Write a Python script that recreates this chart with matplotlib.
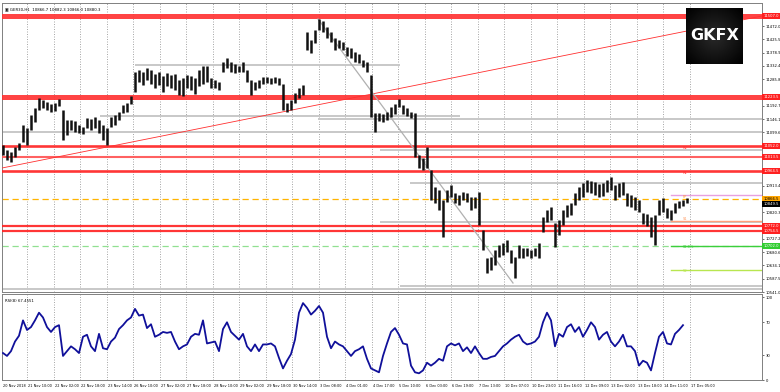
import numpy as np
import matplotlib
matplotlib.use("Agg")
import matplotlib.pyplot as plt
from matplotlib.transforms import blended_transform_factory as blend

# ---------------- data ----------------
symbol_info = "GER30,H1  10866.7 10882.3 10866.0 10880.3"
rsi_info = "RSI(8) 67.4551"

bar_high = [
    11055.5, 11038, 11031, 11048.5, 11062.5, 11125.5, 11115, 11160.5, 11185, 11220,
    11213, 11206, 11199, 11202.5, 11216.5, 11178, 11143, 11143, 11139.5, 11125.5,
    11118.5, 11150, 11146.5, 11153.5, 11143, 11125.5, 11115, 11153.5, 11160.5, 11171,
    11195.5, 11202.5, 11227, 11311, 11318, 11311, 11325, 11318, 11304, 11311,
    11297, 11307.5, 11300.5, 11304, 11283, 11290, 11300.5, 11297, 11290, 11318,
    11332, 11332, 11290, 11283, 11276, 11346, 11360, 11346, 11339, 11332,
    11346, 11318, 11283, 11276, 11283, 11293.5, 11293.5, 11290, 11293.5, 11290,
    11269, 11202.5, 11213, 11237.5, 11255, 11265.5, 11451, 11423, 11458, 11496.5,
    11489.5, 11468.5, 11451, 11430, 11423, 11416, 11398.5, 11395, 11381, 11374,
    11353, 11346, 11300.5, 11167.5, 11167.5, 11164, 11171, 11188.5, 11199, 11216.5,
    11195.5, 11185, 11171, 11167.5, 11020.5, 11010, 11048.5, 10968, 10908.5, 10898,
    10863, 10898, 10915.5, 10887.5, 10880.5, 10891, 10887.5, 10873.5, 10873.5, 10891,
    10758, 10660, 10663.5, 10688, 10705.5, 10712.5, 10723, 10688, 10663.5, 10705.5,
    10695, 10695, 10688, 10695, 10712.5, 10803.5, 10828, 10838.5, 10782.5, 10793,
    10828, 10845.5, 10852.5, 10887.5, 10908.5, 10922.5, 10933, 10929.5, 10926, 10919,
    10922.5, 10933, 10943.5, 10915.5, 10922.5, 10926, 10887.5, 10880.5, 10873.5, 10863,
    10817.5, 10814, 10803.5, 10810.5, 10863, 10870, 10835, 10828, 10852.5, 10859.5,
    10863, 10870]

bar_low = [
    11020.5, 11003, 10996, 11013.5, 11038, 11066, 11055.5, 11108, 11136, 11178,
    11185, 11178, 11171, 11174.5, 11192, 11073, 11090.5, 11108, 11101, 11097.5,
    11094, 11115, 11108, 11115, 11097.5, 11073, 11055.5, 11118.5, 11125.5, 11143,
    11167.5, 11171, 11199, 11241, 11276, 11265.5, 11283, 11269, 11255, 11265.5,
    11241, 11262, 11255, 11248, 11230.5, 11227, 11255, 11248, 11234, 11262,
    11269, 11276, 11255, 11255, 11248, 11311, 11325, 11311, 11307.5, 11311,
    11311, 11276, 11230.5, 11248, 11255, 11269, 11272.5, 11269, 11272.5, 11265.5,
    11178, 11171, 11178, 11202.5, 11220, 11230.5, 11388, 11377.5, 11412.5, 11458,
    11451, 11430, 11416, 11388, 11395, 11388, 11367, 11360, 11346, 11342.5,
    11328.5, 11311, 11153.5, 11101, 11139.5, 11136, 11143, 11153.5, 11164, 11188.5,
    11164, 11157, 11150, 11013.5, 10975, 10968, 10975, 10863, 10852.5, 10828,
    10733.5, 10856, 10873.5, 10852.5, 10845.5, 10863, 10856, 10828, 10835, 10775.5,
    10688, 10607.5, 10618, 10635.5, 10663.5, 10670.5, 10681, 10642.5, 10590, 10660,
    10660, 10667, 10660, 10667, 10660, 10751, 10786, 10793, 10698.5, 10740.5,
    10775.5, 10803.5, 10810.5, 10845.5, 10863, 10873.5, 10891, 10887.5, 10880.5, 10873.5,
    10877, 10891, 10898, 10863, 10873.5, 10880.5, 10842, 10838.5, 10828, 10821,
    10779, 10772, 10733.5, 10705.5, 10810.5, 10821, 10800, 10793, 10817.5, 10835,
    10842, 10852.5]

rsi = [
    32.6, 29.1, 34.9, 46.5, 53.5, 72.1, 60.5, 64.0, 72.1, 81.4,
    75.6, 64.0, 58.1, 64.0, 66.3, 29.1, 34.9, 40.7, 37.2, 32.6,
    52.3, 54.7, 40.7, 34.9, 55.8, 38.4, 37.2, 46.5, 51.2, 61.6,
    66.3, 72.1, 75.6, 86.0, 77.9, 79.1, 62.8, 67.4, 52.3, 54.7,
    58.1, 57.0, 58.1, 46.5, 37.2, 40.7, 43.0, 52.3, 55.8, 54.7,
    72.1, 44.2, 45.3, 46.5, 34.9, 61.6, 69.8, 58.1, 53.5, 48.8,
    55.8, 40.7, 34.9, 43.0, 34.9, 43.0, 43.0, 44.2, 40.7, 26.7,
    14.0, 23.3, 31.4, 48.8, 81.4, 93.0, 87.2, 79.1, 83.7, 89.5,
    81.4, 52.3, 38.4, 46.5, 43.0, 40.7, 34.9, 29.1, 34.9, 37.2,
    40.7, 25.6, 14.0, 11.6, 9.3, 29.1, 44.2, 58.1, 62.8, 54.7,
    44.2, 43.0, 17.4, 9.3, 8.1, 11.6, 20.9, 17.4, 20.9, 25.6,
    23.3, 40.7, 44.2, 41.9, 44.2, 34.9, 39.5, 32.6, 40.7, 32.6,
    25.6, 25.6, 27.9, 29.1, 34.9, 40.7, 44.2, 48.8, 52.3, 54.7,
    46.5, 43.0, 44.2, 46.5, 52.3, 69.8, 81.4, 72.1, 40.7, 55.8,
    52.3, 64.0, 67.4, 58.1, 64.0, 52.3, 60.5, 69.8, 64.0, 48.8,
    54.7, 58.1, 46.5, 40.7, 46.5, 54.7, 40.7, 40.7, 34.9, 17.4,
    23.3, 20.9, 11.6, 32.6, 52.3, 58.1, 44.2, 43.0, 55.8, 60.5,
    66.3]

time_labels = ["20 Nov 2018", "21 Nov 10:00", "22 Nov 02:00", "22 Nov 18:00", "23 Nov 14:00",
               "26 Nov 10:00", "27 Nov 02:00", "27 Nov 18:00", "28 Nov 10:00", "29 Nov 02:00",
               "29 Nov 18:00", "30 Nov 14:00", "3 Dec 08:00", "4 Dec 01:00", "4 Dec 17:00",
               "5 Dec 10:00", "6 Dec 03:00", "6 Dec 19:00", "7 Dec 13:00", "10 Dec 07:00",
               "10 Dec 23:00", "11 Dec 16:00", "12 Dec 09:00", "13 Dec 02:00", "13 Dec 18:00",
               "14 Dec 11:00", "17 Dec 05:00"]

# horizontal levels (price)
red_levels = [11507.0, 11223.5, 11052.0, 11013.5, 10964.5, 10772.0, 10754.5]
gray_levels = [11335.5, 11157.0, 11146.5, 11101.0, 11038.0, 10922.5, 10786.0, 10562.0, 10551.5]
gray_starts = [33, 24.25, 78.75, -0.25, 94.25, 101.75, 94.25, 99.25, -0.25]
gray_ends = [99.25, 114.25, 189.75, 189.75, 189.75, 189.75, 189.75, 189.75, 189.75]
orange_level = 10866.5
green_level = 10702.0
pivot_levels = [10880.5, 10789.5, 10702.0, 10618.0]
pivot_start = 167
last_price = 10849.5

# small level labels drawn next to the last bars
level_tags = ["R2", "R1", "PP", "S1", "61.8%", "S2"]
level_tag_prices = [11045.0, 10957.5, 10873.5, 10796.5, 10698.5, 10614.5]

red_trend_x = [-0.25, 189.75]
red_trend_y = [10975.0, 11507.0]
gray_trend_x = [78.75, 127.5]
gray_trend_y = [11496.5, 10572.5]

# ---------------- layout / style ----------------
W, H = 780, 392
fig = plt.figure(figsize=(W / 100, H / 100), dpi=100)
fig.patch.set_facecolor("white")


def frac(x0, y0, x1, y1):
    return [x0 / W, 1 - y1 / H, (x1 - x0) / W, (y1 - y0) / H]


ax = fig.add_axes(frac(2, 3, 762, 292))
axr = fig.add_axes(frac(2, 294, 762, 380))
XLIM = (-0.25, 189.75)
for a in (ax, axr):
    a.set_xlim(*XLIM)
    a.set_facecolor("white")
    for s in a.spines.values():
        s.set_color("#808080")
        s.set_linewidth(0.7)
    a.set_xticks([])
ax.set_ylim(10541.0, 11552.5)
axr.set_ylim(0, 104)

# vertical dotted grid (one line per time label after the first)
grid_pos = 6 + 6.625 * np.arange(len(time_labels) - 1)
for a in (ax, axr):
    for g in grid_pos:
        a.axvline(g, color="#9a9a9a", lw=0.6, ls=(0, (1.2, 1.8)), zorder=0)

# right-axis coloured boxes (levels shown on the price scale)
box_levels = red_levels + [orange_level, green_level, last_price]
box_colors = ["#ff2020"] * len(red_levels) + ["#ffa500", "#32cd32", "#000000"]
box_text = ["white"] * len(red_levels) + ["black", "white", "white"]

# price axis ticks on the right (those hidden under a box are left out)
price_ticks = 10541.0 + 46.55 * np.arange(22)
price_ticks = [t for t in price_ticks if min(abs(t - b) for b in box_levels) > 16]
ax.yaxis.tick_right()
ax.set_yticks(price_ticks)
ax.set_yticklabels([f"{v:.1f}" for v in price_ticks], fontsize=2.7)
ax.tick_params(axis="y", length=1.5, width=0.4, pad=1, colors="#000000")
axr.yaxis.tick_right()
axr.set_yticks([0, 30, 70, 100])
axr.set_yticklabels(["0", "30", "70", "100"], fontsize=2.7)
axr.tick_params(axis="y", length=1.5, width=0.4, pad=1)

# drawn levels
for lv, xs, xe in zip(gray_levels, gray_starts, gray_ends):
    ax.plot([xs, xe], [lv, lv], color="#c8c8c8", lw=1.4, zorder=1, solid_capstyle="butt")
ax.axhline(orange_level, color="#ffb400", lw=0.9, ls=(0, (5, 3)), zorder=2)
ax.axhline(green_level, color="#90e090", lw=0.9, ls=(0, (5, 3)), zorder=2)
red_lw = [3.6, 3.6, 1.9, 1.5, 1.9, 1.6, 1.6]
red_col = ["#ff3030", "#ff3030", "#ff2020", "#ff5050", "#ff2020", "#ff2020", "#ff2020"]
for lv, lw, c in zip(red_levels, red_lw, red_col):
    ax.axhline(lv, color=c, lw=lw, alpha=0.9, zorder=3)
piv_col = ["#e8a0e0", "#ffa07a", "#3ccf3c", "#b8e650"]
for lv, c in zip(pivot_levels, piv_col):
    ax.plot([pivot_start, XLIM[1]], [lv, lv], color=c, lw=1.0, zorder=3)

ax.plot(red_trend_x, red_trend_y, color="#ff3030", lw=0.6, zorder=3)
ax.plot(gray_trend_x, gray_trend_y, color="#b0b0b0", lw=0.9, zorder=3)

# level tags
tag_col = ["#ff3030", "#ff3030", "#ff9a30", "#ff9a60", "#3ccf3c", "#b8e650"]
for t, p, c in zip(level_tags, level_tag_prices, tag_col):
    ax.text(170, p, t, fontsize=2.6, color=c, va="center", ha="left", zorder=5)

# price bars
idx = np.arange(len(bar_high))
ax.vlines(idx, bar_low, bar_high, color="#111111", lw=1.8, zorder=4)

# RSI
axr.plot(np.arange(len(rsi)), rsi, color="#10109a", lw=1.3, zorder=3)

# header texts
ax.text(0.004, 0.985, "\u25a3 " + symbol_info, transform=ax.transAxes, fontsize=2.8,
        va="top", ha="left", color="#000000")
axr.text(0.004, 0.94, rsi_info, transform=axr.transAxes, fontsize=2.8,
         va="top", ha="left", color="#000000")

tb = blend(ax.transAxes, ax.transData)
for lv, bc, tc in zip(box_levels, box_colors, box_text):
    ax.text(1.002, lv, f"{lv:.1f}", transform=tb, fontsize=2.7, color=tc, va="center",
            ha="left", zorder=6, clip_on=False,
            bbox=dict(boxstyle="square,pad=0.3", fc=bc, ec="none"))

# time labels
tl = blend(axr.transData, axr.transAxes)
label_pos = np.concatenate([[XLIM[0]], grid_pos])
for p, t in zip(label_pos, time_labels):
    axr.text(p + 0.3, -0.07, t, transform=tl, fontsize=2.5, va="center", ha="left",
             clip_on=False)

# logo
lax = fig.add_axes(frac(686, 8, 743, 64))
yy, xx = np.mgrid[-1:1:60j, -1:1:60j]
grad = np.clip(1 - np.sqrt(xx ** 2 + yy ** 2) / 1.4, 0, 1)
lax.imshow(grad, cmap="gray", vmin=0, vmax=6, extent=(0, 1, 0, 1), aspect="auto")
lax.text(0.5, 0.5, "GKFX", color="white", fontsize=11.5, fontweight="bold",
         ha="center", va="center", transform=lax.transAxes)
lax.set_axis_off()

fig.savefig("out.png", dpi=100, facecolor="white")
